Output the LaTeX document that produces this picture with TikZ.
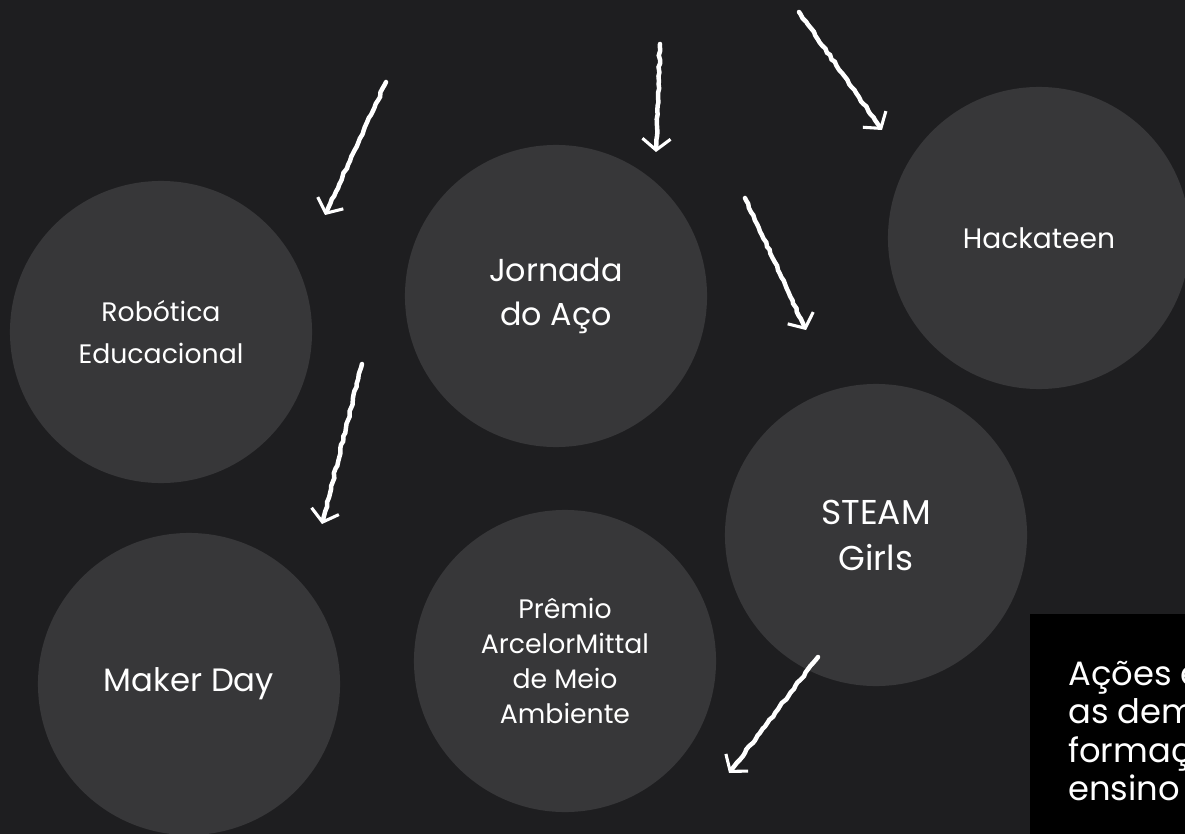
\documentclass[tikz,border=0pt]{standalone}
\usepackage{fontspec}
\setmainfont{Poppins}
\usetikzlibrary{arrows.meta, decorations.pathmorphing, positioning}
\definecolor{chalkboard}{RGB}{30,30,32}
\definecolor{disc}{RGB}{55,55,57}
\tikzset{
  bubble/.style={circle, fill=disc, minimum size=7.55cm, inner sep=0pt, text=white, align=center},
  chalk/.style={white, line width=3.2pt, line cap=round, decorate,
    decoration={random steps, segment length=3pt, amplitude=0.6pt, pre length=2pt, post length=9pt},
    -{Straight Barb[length=8pt, width=20pt, line width=2.2pt]}},
}
\begin{document}
\begin{tikzpicture}[x=0.025cm, y=-0.025cm]
		% board
		\fill[chalkboard] (0,0) rectangle (1185,834);
		\useasboundingbox (0,0) rectangle (1185,834);

		% topics
		\node[bubble, font=\fontsize{19}{30.4}\selectfont] (robotica) at (161,332) {Robótica\\Educacional};
		\node[bubble, font=\fontsize{22.6}{31.3}\selectfont] (jornada) at (556,296) {Jornada\\do Aço};
		\node[bubble, font=\fontsize{20}{26}\selectfont] (hackateen) at (1039,238) {Hackateen};
		\node[bubble, font=\fontsize{24.5}{32.7}\selectfont] (steam) at (876,535) {STEAM\\Girls};
		\node[bubble, font=\fontsize{23}{28}\selectfont] (maker) at (189,684) {Maker Day};
		\node[bubble, font=\fontsize{19}{24.9}\selectfont] (premio) at (565,661) {Prêmio\\ArcelorMittal\\de Meio\\Ambiente};

		% caption box (cut by the page edge)
		\fill[black] (1030,614) rectangle (1185,834);
		\node[anchor=north west, inner sep=0pt, align=left, text=white, font=\fontsize{24}{27.2}\selectfont] (caption) at (1068,661) {Ações e\\as dem\\formaç\\ensino t};

		% chalk arrows
		\coordinate (a1) at (386,82);  \coordinate (b1) at (325,215);
		\coordinate (a2) at (660,44);  \coordinate (b2) at (656,152);
		\coordinate (a3) at (799,12);  \coordinate (b3) at (882,130);
		\coordinate (a4) at (745,198); \coordinate (b4) at (806,330);
		\coordinate (a5) at (362,364); \coordinate (b5) at (322,524);
		\coordinate (a6) at (818,657); \coordinate (b6) at (729,773);
		\foreach \i in {1,...,6}
			\draw[chalk] (a\i) -- (b\i);
\end{tikzpicture}
\end{document}
